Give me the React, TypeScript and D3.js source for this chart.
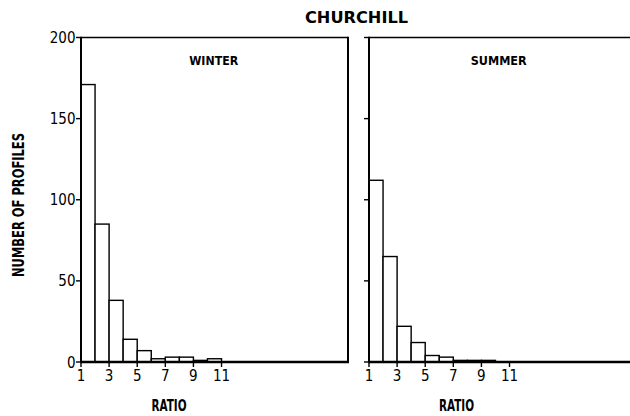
import React from "react";
import * as d3 from "d3";

const binStarts = [1, 2, 3, 4, 5, 6, 7, 8, 9, 10];
const winterCounts = [171, 85, 38, 14, 7, 2, 3, 3, 1, 2];
const summerCounts = [112, 65, 22, 12, 4, 3, 1, 1, 1, 0];
const yTicks = [0, 50, 100, 150, 200];
const xTicks = [1, 3, 5, 7, 9, 11];
const title = "CHURCHILL";
const panels = [
  { name: "WINTER", counts: winterCounts, showYLabels: true },
  { name: "SUMMER", counts: summerCounts, showYLabels: false },
];

const FONT = "'DejaVu Sans Condensed', 'DejaVu Sans', sans-serif";
const FONT_BOLD = "'DejaVu Sans', sans-serif";

export default function App() {
  const W = 630;
  const H = 416;
  const y = d3.scaleLinear().domain([0, 200]).range([362, 37.5]);
  const ranges: [number, number][] = [
    [81, 348],
    [369, 636],
  ];

  return (
    <svg
      width={W}
      height={H}
      style={{ position: "absolute", left: 0, top: 0, background: "#fff" }}
    >
      <rect x={0} y={0} width={W} height={H} fill="#fff" />
      <text
        x={356.5}
        y={23}
        textAnchor="middle"
        fontFamily={FONT_BOLD}
        fontWeight="bold"
        fontSize={16}
        textLength={103}
        lengthAdjust="spacingAndGlyphs"
      >
        {title}
      </text>
      <text
        transform={`translate(24,205) rotate(-90)`}
        textAnchor="middle"
        fontFamily={FONT}
        fontWeight="bold"
        fontSize={15}
        textLength={144}
        lengthAdjust="spacingAndGlyphs"
      >
        NUMBER OF PROFILES
      </text>
      {panels.map((p, pi) => {
        const x = d3.scaleLinear().domain([1, 20]).range(ranges[pi]);
        const x0 = x(1);
        const x1 = x(20);
        const bars = binStarts
          .map((b, i) => ({ b, v: p.counts[i] }))
          .filter((d) => d.v > 0);
        return (
          <g key={p.name}>
            {bars.map((d) => (
              <rect
                key={d.b}
                x={x(d.b)}
                y={y(d.v)}
                width={x(d.b + 1) - x(d.b)}
                height={y(0) - y(d.v)}
                fill="#fff"
                stroke="#000"
                strokeWidth={1.4}
              />
            ))}
            {/* frame */}
            <line x1={x0} x2={x1} y1={y(200)} y2={y(200)} stroke="#000" strokeWidth={1.6} />
            <line x1={x0} x2={x0} y1={y(200) - 0.8} y2={y(0)} stroke="#000" strokeWidth={2} />
            <line x1={x1} x2={x1} y1={y(200) - 0.8} y2={y(0)} stroke="#000" strokeWidth={2} />
            <line x1={x0 - 1} x2={x1 + 1} y1={y(0)} y2={y(0)} stroke="#000" strokeWidth={2.4} />
            {yTicks.map((t) => (
              <g key={t}>
                <line x1={x0 - 5} x2={x0} y1={y(t)} y2={y(t)} stroke="#000" strokeWidth={1.4} />
                {p.showYLabels && (
                  <text
                    x={x0 - 5.5}
                    y={y(t) + 5.5}
                    textAnchor="end"
                    fontFamily={FONT}
                    fontSize={15}
                  >
                    {t}
                  </text>
                )}
              </g>
            ))}
            {xTicks.map((t) => (
              <g key={t}>
                <line x1={x(t)} x2={x(t)} y1={y(0)} y2={y(0) + 5} stroke="#000" strokeWidth={1.4} />
                <text
                  x={x(t)}
                  y={381}
                  textAnchor="middle"
                  fontFamily={FONT}
                  fontSize={15}
                >
                  {t}
                </text>
              </g>
            ))}
            <text
              x={pi === 0 ? 213.7 : 498.7}
              y={65}
              textAnchor="middle"
              fontFamily={FONT_BOLD}
              fontWeight="bold"
              fontSize={12}
              textLength={pi === 0 ? 49 : 56}
              lengthAdjust="spacingAndGlyphs"
            >
              {p.name}
            </text>
            <text
              x={pi === 0 ? 169 : 456.5}
              y={411}
              textAnchor="middle"
              fontFamily={FONT}
              fontWeight="bold"
              fontSize={16}
              textLength={35}
              lengthAdjust="spacingAndGlyphs"
            >
              RATIO
            </text>
          </g>
        );
      })}
    </svg>
  );
}
